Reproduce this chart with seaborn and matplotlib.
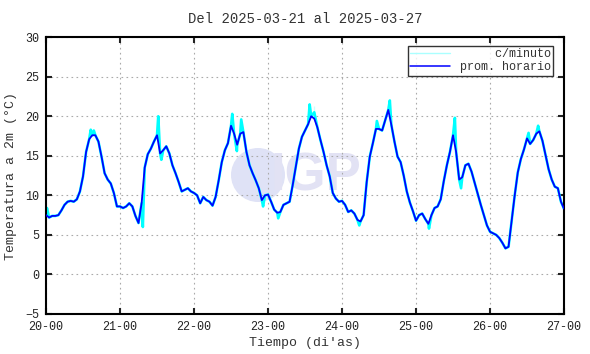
import numpy as np
import pandas as pd
import seaborn as sns
import matplotlib.pyplot as plt
from matplotlib.lines import Line2D
from matplotlib.patches import Circle

# Promedio horario por dia (temperatura a 2m, grados C), una lectura por hora
dia20 = [7.5, 7.2, 7.4, 7.4, 7.5, 8.1, 8.8, 9.2, 9.3, 9.2, 9.5, 10.5,
         12.4, 15.5, 17.1, 17.6, 17.6, 16.8, 14.9, 12.8, 12.0, 11.5, 10.3, 8.6]
dia21 = [8.6, 8.4, 8.6, 9.0, 8.6, 7.4, 6.5, 9.0, 13.5, 15.2, 15.9, 16.8,
         17.6, 15.3, 15.7, 16.2, 15.3, 13.8, 12.8, 11.7, 10.5, 10.7, 10.9, 10.5]
dia22 = [10.3, 10.0, 9.0, 9.8, 9.4, 9.2, 8.7, 9.8, 11.9, 14.2, 15.7, 16.6,
         18.8, 17.8, 16.4, 17.8, 18.0, 15.5, 13.8, 12.8, 11.9, 10.9, 9.4, 10.0]
dia23 = [10.1, 9.2, 8.2, 7.8, 7.9, 8.8, 9.0, 9.2, 11.3, 13.6, 15.9, 17.4,
         18.2, 19.0, 20.0, 19.7, 18.6, 17.0, 15.5, 13.8, 12.4, 10.3, 9.6, 9.2]
dia24 = [9.3, 8.8, 7.9, 8.1, 7.7, 6.9, 6.7, 7.5, 11.7, 14.9, 16.6, 18.4,
         18.4, 18.2, 19.5, 20.8, 18.9, 16.8, 14.9, 14.2, 12.5, 10.5, 9.1, 8.0]
dia25 = [6.8, 7.5, 7.7, 7.0, 6.4, 7.5, 8.4, 8.6, 9.5, 11.8, 13.8, 15.5,
         17.6, 15.5, 12.0, 12.3, 13.8, 14.0, 13.0, 11.6, 10.2, 8.8, 7.5, 6.2]
dia26 = [5.4, 5.2, 5.0, 4.6, 4.0, 3.3, 3.5, 6.8, 10.0, 12.9, 14.6, 15.8,
         17.2, 16.5, 17.0, 17.8, 18.1, 16.9, 15.1, 13.3, 12.0, 11.1, 10.9, 9.2]
final_27 = 8.3

# picos del registro por minuto (horas desde 20-00, temperatura)
pico_horas = [0.3, 14.5, 15.5, 31.4, 36.4, 37.4, 60.4, 61.9, 63.3, 70.4,
              75.3, 85.5, 87.0, 101.6, 107.3, 111.5, 124.2, 132.6, 134.6,
              156.5, 159.6]
pico_temp = [8.4, 18.3, 18.2, 6.0, 20.0, 14.5, 20.3, 15.6, 19.6, 8.6,
             7.1, 21.5, 21.3, 6.2, 19.4, 22.0, 5.8, 19.8, 10.9,
             17.9, 18.8]

etiquetas_x = ["20-00", "21-00", "22-00", "23-00", "24-00", "25-00", "26-00", "27-00"]

temp_hora = dia20 + dia21 + dia22 + dia23 + dia24 + dia25 + dia26 + [final_27]
horas = list(range(len(temp_hora)))
df_hora = pd.DataFrame({"horas": horas, "temp": temp_hora})
df_min = pd.DataFrame({"horas": horas + pico_horas, "temp": temp_hora + pico_temp})

sns.set_style("ticks")
plt.rcParams["font.family"] = ["Liberation Mono", "DejaVu Sans Mono"]

fig = plt.figure(figsize=(5.9, 3.54), dpi=100)
ax = fig.add_axes([0.078, 0.113, 0.878, 0.782])
ax.set_zorder(1)
ax.set_facecolor("none")

# marca de agua IGP (detras del grafico)
fig.patches.append(Circle((2.58, 1.79), 0.27, transform=fig.dpi_scale_trans,
                          facecolor="#dfe2f6", edgecolor="none", zorder=-1))
fig.text(316 / 590, 1 - 176 / 354, "IGP", ha="center", va="center", fontsize=38,
         fontweight="bold", family="Liberation Sans", color="#e2e2f4", zorder=-1)

sns.lineplot(data=df_min, x="horas", y="temp", color="#00ffff", linewidth=1.9, ax=ax, zorder=2)
sns.lineplot(data=df_hora, x="horas", y="temp", color="#0000ff", linewidth=1.3, ax=ax, zorder=3)

ax.set_xlim(0, 168)
ax.set_ylim(-5, 30)
ax.set_xticks(range(0, 169, 24))
ax.set_xticklabels(etiquetas_x)
ax.set_yticks(range(-5, 31, 5))
ax.grid(True, linestyle=(0, (1.5, 3)), color="#aaaaaa", linewidth=0.8)
ax.tick_params(direction="in", length=4, width=1.5, top=True, right=True,
               labelsize=8.5, colors="#222222", pad=5)
for s in ax.spines.values():
    s.set_linewidth(1.5)
    s.set_color("black")

ax.set_title("Del 2025-03-21 al 2025-03-27", fontsize=10, color="#333333", pad=10)
ax.set_xlabel("Tiempo (di'as)", fontsize=9.5, color="#333333", labelpad=3)
ax.set_ylabel("Temperatura a 2m (°C)", fontsize=9.5, color="#333333", labelpad=6)

handles = [Line2D([], [], color="#aaffff", linewidth=1.0),
           Line2D([], [], color="#0000ff", linewidth=1.1)]
leg = ax.legend(handles, ["     c/minuto", "prom. horario"], loc="upper right",
                fontsize=8.5, frameon=True, fancybox=False, borderpad=0.2,
                labelspacing=0.1, handlelength=3.4, borderaxespad=0.5,
                bbox_to_anchor=(0.99, 0.99))
leg.get_frame().set_edgecolor("black")
leg.get_frame().set_linewidth(1.0)
for t in leg.get_texts():
    t.set_color("#333333")

fig.savefig("out.png", dpi=100)
